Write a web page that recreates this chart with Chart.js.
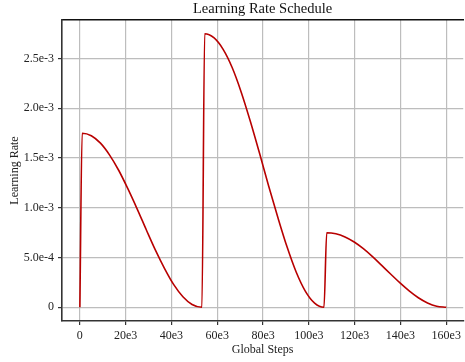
<!DOCTYPE html>
<html>
<head>
<meta charset="utf-8">
<script src="https://cdn.jsdelivr.net/npm/chart.js@4/dist/chart.umd.min.js"></script>
<style>
  html, body { margin: 0; padding: 0; background: #fff; }
  #wrap { width: 465px; height: 362px; }
</style>
</head>
<body>
<div id="wrap"><canvas id="lrChart"></canvas></div>
<script>
// values (steps, learning rate)
const steps = [
  0, 1000, 5000, 9000, 13000, 17000, 21000, 25000, 29000, 33000, 37000, 41000, 45000, 49000, 53300,
  54500, 58500, 62500, 66500, 70500, 74500, 78500, 82500, 86500, 90500, 94500, 98500, 102500, 106600,
  107800, 111800, 115800, 119800, 123800, 127800, 131800, 135800, 139800, 143800, 147800, 151800, 155800, 160000
];
const learningRate = [
  0, 1.75e-3, 1.725e-3, 1.65e-3, 1.53e-3, 1.375e-3, 1.19e-3, 0.99e-3, 0.78e-3, 0.575e-3, 0.39e-3, 0.228e-3, 0.107e-3, 0.029e-3, 0,
  2.75e-3, 2.71e-3, 2.595e-3, 2.41e-3, 2.16e-3, 1.865e-3, 1.545e-3, 1.215e-3, 0.9e-3, 0.605e-3, 0.352e-3, 0.16e-3, 0.042e-3, 0,
  0.75e-3, 0.739e-3, 0.707e-3, 0.656e-3, 0.589e-3, 0.509e-3, 0.421e-3, 0.332e-3, 0.245e-3, 0.165e-3, 0.096e-3, 0.044e-3, 0.011e-3, 0
];

const xTickValues = [0, 20000, 40000, 60000, 80000, 100000, 120000, 140000, 160000];
const xTickLabels = ['0', '20e3', '40e3', '60e3', '80e3', '100e3', '120e3', '140e3', '160e3'];
const yTickValues = [0, 5e-4, 1e-3, 1.5e-3, 2e-3, 2.5e-3];
const yTickLabels = ['0', '5.0e-4', '1.0e-3', '1.5e-3', '2.0e-3', '2.5e-3'];

const FONT = "'Liberation Serif', serif";
const gridColor = '#bdbdbd';
const spineColor = '#333333';

const ctx = document.getElementById('lrChart').getContext('2d');
new Chart(ctx, {
  type: 'line',
  data: {
    datasets: [{
      label: 'Learning Rate',
      data: steps.map((s, i) => ({ x: s, y: learningRate[i] })),
      borderColor: '#b80000',
      borderWidth: 1.6,
      pointRadius: 0,
      fill: false,
      cubicInterpolationMode: 'monotone'
    }]
  },
  options: {
    responsive: true,
    maintainAspectRatio: false,
    animation: false,
    layout: { padding: 0 },
    plugins: {
      legend: { display: false },
      tooltip: { enabled: false },
      title: { display: false }
    },
    scales: {
      x: {
        type: 'linear',
        position: 'bottom',
        min: -7800,
        max: 167400,
        afterBuildTicks: (scale) => { scale.ticks = xTickValues.map(v => ({ value: v })); },
        afterFit: (scale) => { scale.height = 41; },
        ticks: {
          autoSkip: false,
          maxRotation: 0,
          padding: 4,
          color: '#222',
          font: { family: FONT, size: 12 },
          callback: (v) => xTickLabels[xTickValues.indexOf(v)]
        },
        grid: { color: gridColor, lineWidth: 1.2, tickLength: 4, tickColor: spineColor },
        border: { display: true, color: spineColor, width: 1.6 },
        title: {
          display: true,
          text: 'Global Steps',
          color: '#222',
          font: { family: FONT, size: 12 },
          padding: { top: 0, bottom: 5 }
        }
      },
      xTop: {
        type: 'linear',
        position: 'top',
        min: -7800,
        max: 167400,
        afterFit: (scale) => { scale.height = 20; },
        ticks: { display: false },
        grid: { display: false, drawTicks: false },
        border: { display: true, color: '#111', width: 1.4 },
        title: {
          display: true,
          text: 'Learning Rate Schedule',
          color: '#111',
          font: { family: FONT, size: 14.5 },
          padding: { top: 0, bottom: 0 }
        }
      },
      y: {
        type: 'linear',
        min: -1.375e-4,
        max: 2.8875e-3,
        afterBuildTicks: (scale) => { scale.ticks = yTickValues.map(v => ({ value: v })); },
        afterFit: (scale) => { scale.width = 62; },
        ticks: {
          padding: 4,
          color: '#222',
          font: { family: FONT, size: 12 },
          callback: (v) => yTickLabels[yTickValues.indexOf(v)]
        },
        grid: { color: gridColor, lineWidth: 1.2, tickLength: 4, tickColor: spineColor },
        border: { display: true, color: spineColor, width: 1.6 },
        title: {
          display: true,
          text: 'Learning Rate',
          color: '#222',
          font: { family: FONT, size: 12 },
          padding: { top: 8, bottom: 0 }
        }
      }
    }
  }
});
</script>
</body>
</html>
